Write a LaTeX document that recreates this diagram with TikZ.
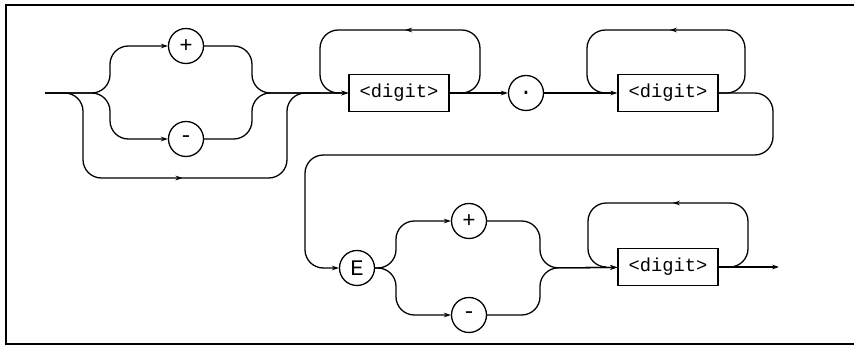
\documentclass[tikz,border=0pt]{standalone}
\usepackage{fontspec}
\setmonofont{Liberation Mono}
\usetikzlibrary{arrows.meta,decorations.markings}

\begin{document}
\begin{tikzpicture}[x=0.03cm, y=-0.03cm, line width=1.1pt,
    every node/.style={font=\fontsize{16}{18}\selectfont\ttfamily},
    term/.style={draw, circle, minimum size=1.05cm, inner sep=0pt,
      font=\fontsize{19}{22}\selectfont\ttfamily},
    nonterm/.style={draw, rectangle, minimum width=3cm, minimum height=1.11cm, inner sep=0pt},
    flow/.style={-{Stealth[length=6pt,width=4pt]}, rounded corners=0.55cm},
    back/.style={rounded corners=0.55cm, postaction={decorate},
      decoration={markings, mark=at position 0.5 with {\arrow{Stealth[length=6pt,width=4pt]}}}}]
  \useasboundingbox (0,0) rectangle (854,347);
  % frame (right side runs off the page)
  \draw[line width=1.6pt] (860,5) -- (6,5) -- (6,344) -- (860,344);

  % first row: sign, digits, point, digits
  \coordinate (start) at (45,93);
  \node[term] (plusA) at (186,46) {+};
  \node[term] (minusA) at (186,139) {-};
  \node[nonterm] (digitA) at (399,93) {<digit>};
  \node[term] (dot) at (526,93) {.};
  \node[nonterm] (digitB) at (668,93) {<digit>};

  % second row: exponent
  \node[term] (expo) at (357,268) {E};
  \node[term] (plusB) at (469,221) {+};
  \node[term] (minusB) at (469,315) {-};
  \node[nonterm] (digitC) at (668,267) {<digit>};
  \coordinate (finish) at (779,267);

  % sign
  \draw[flow] (start) -- (110,93) -- (110,46) -- (plusA);
  \draw[flow] (start) -- (110,93) -- (110,139) -- (minusA);
  \draw[flow] (plusA) -- (252,46) -- (252,93) -- (digitA);
  \draw[flow] (minusA) -- (252,139) -- (252,93) -- (digitA);
  \draw[back] (start) -- (83,93) -- (83,178) -- (287,178) -- (287,93) -- (320,93);

  % integer part and point
  \draw[back] (digitA.east) -- (480,93) -- (480,30) -- (320,30) -- (320,93) -- (340,93);
  \draw[flow] (digitA) -- (dot);
  \draw[flow] (dot) -- (digitB);
  \draw[back] (digitB.east) -- (745,93) -- (745,30) -- (587,30) -- (587,93) -- (605,93);

  % over to the exponent
  \draw[flow] (digitB.east) -- (773,93) -- (773,155) -- (305,155) -- (305,268) -- (expo);
  \draw[flow] (expo) -- (396,268) -- (396,221) -- (plusB);
  \draw[flow] (expo) -- (396,268) -- (396,315) -- (minusB);
  \draw[flow] (plusB) -- (540,221) -- (540,268) -- (digitC);
  \draw[flow] (minusB) -- (540,315) -- (540,268) -- (digitC);
  \draw[back] (digitC.east) -- (748,267) -- (748,203) -- (588,203) -- (588,267) -- (605,267);
  \draw[flow] (digitC) -- (finish);
\end{tikzpicture}
\end{document}
